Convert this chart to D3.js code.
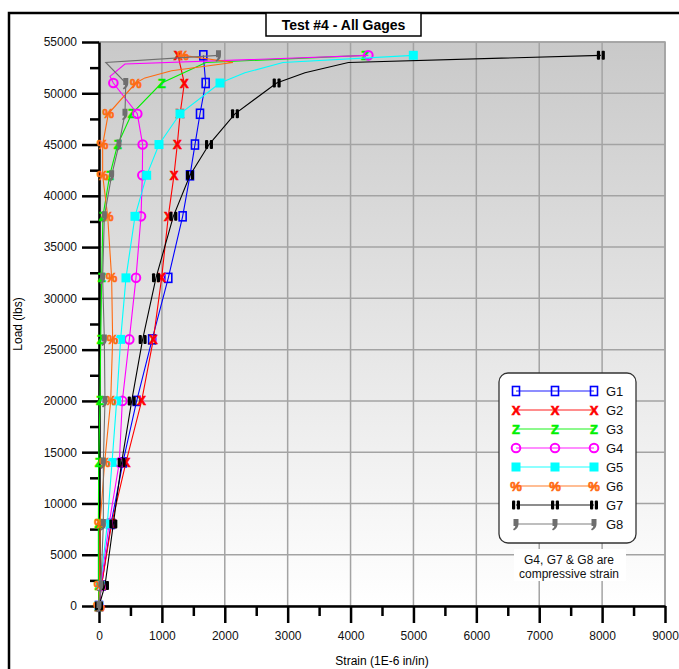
<!DOCTYPE html>
<html>
<head>
<meta charset="utf-8">
<script src="https://cdn.jsdelivr.net/npm/d3@7"></script>
<style>
  body { margin: 0; background: #fff; }
  text { font-family: "Liberation Sans", Arial, sans-serif; }
</style>
</head>
<body>
<svg id="chart" width="679" height="669"></svg>
<script>
// load steps where every gage was read and marked
const loadLevels = [0, 2000, 8000, 14000, 20000, 26000, 32000, 38000, 42000, 45000, 48000, 51000];
const topLoad = 53700;

// strain (1E-6 in/in) at each load level
const g1Strain = [0, 40, 190, 380, 599, 845, 1102, 1330, 1447, 1526, 1606, 1696];
const g2Strain = [0, 40, 200, 429, 678, 864, 996, 1102, 1192, 1245, 1290, 1357];
const g3Strain = [0, -10, -10, -5, 16, 27, 43, 62, 170, 297, 520, 996];
const g4Strain = [0, 30, 160, 323, 371, 482, 588, 668, 689, 694, 609, 228];
const g5Strain = [0, 20, 132, 207, 281, 344, 429, 572, 758, 954, 1288, 1924];
const g6Strain = [0, 10, 16, 90, 186, 217, 201, 138, 58, 58, 148, 583];
const g7Strain = [0, 95, 228, 360, 520, 694, 906, 1182, 1447, 1749, 2162, 2825];
const g8Strain = [0, 30, 69, 69, 95, 85, 58, 85, 201, 318, 413, 426];

// unmarked readings between 51000 and the last step: [load, strain]
const g1Extra = [];
const g2Extra = [];
const g3Extra = [[53000, 1700]];
const g4Extra = [[51650, 175], [52850, 413]];
const g5Extra = [[52000, 2320], [53000, 2925]];
const g6Extra = [[51500, 731], [52200, 1155], [53000, 2130]];
const g7Extra = [[52000, 3275], [53000, 3965]];
const g8Extra = [[53000, 107]];

// strain at the last load step
const topStrain = [1659, 1256, 4230, 4283, 4998, 1336, 7980, 1900];

const gageNames = ["G1", "G2", "G3", "G4", "G5", "G6", "G7", "G8"];
const gageColors = ["#0000ff", "#ff0000", "#00f000", "#ff00ff", "#00ffff", "#ff6a10", "#000000", "#6e6e6e"];
const gageMarks = ["square", "x", "z", "circle", "fsquare", "pct", "bars", "comma"];

const xTicks = d3.range(0, 9001, 1000);
const xMinor = d3.range(500, 9000, 1000);
const yTicks = d3.range(0, 55001, 5000);
const yMinor = d3.range(2500, 55000, 5000);

const allStrain = [g1Strain, g2Strain, g3Strain, g4Strain, g5Strain, g6Strain, g7Strain, g8Strain];
const allExtra = [g1Extra, g2Extra, g3Extra, g4Extra, g5Extra, g6Extra, g7Extra, g8Extra];

const series = gageNames.map((name, i) => {
    const pts = loadLevels.map((l, j) => ({load: l, strain: allStrain[i][j], mark: true}));
    allExtra[i].forEach(e => pts.push({load: e[0], strain: e[1], mark: false}));
    pts.push({load: topLoad, strain: topStrain[i], mark: true});
    return {name, color: gageColors[i], mark: gageMarks[i], points: pts};
});

const svg = d3.select("#chart");
const x = d3.scaleLinear().domain([0, 9000]).range([99, 665]);
const y = d3.scaleLinear().domain([0, 55000]).range([606, 42]);

// outer frame
svg.append("rect")
    .attr("x", 9).attr("y", 13).attr("width", 720).attr("height", 720)
    .attr("fill", "#fff").attr("stroke", "#000").attr("stroke-width", 2.5);

// plot background
const grad = svg.append("defs").append("linearGradient")
    .attr("id", "bg").attr("x1", 0).attr("y1", 0).attr("x2", 0).attr("y2", 1);
grad.append("stop").attr("offset", "0%").attr("stop-color", "#c9c9c9");
grad.append("stop").attr("offset", "100%").attr("stop-color", "#ffffff");

svg.append("rect")
    .attr("x", x(0)).attr("y", y(55000))
    .attr("width", x(9000) - x(0)).attr("height", y(0) - y(55000))
    .attr("fill", "url(#bg)")
    .attr("stroke", "#a0a0a0").attr("stroke-width", 1.5);

// grid
const grid = svg.append("g").attr("class", "grid");
grid.selectAll(".vg").data(xTicks.slice(1))
    .enter().append("line")
    .attr("x1", d => x(d)).attr("x2", d => x(d))
    .attr("y1", y(55000)).attr("y2", y(0))
    .attr("stroke", "#a3a3a3").attr("stroke-width", 1.5);
grid.selectAll(".hg").data(yTicks.slice(1))
    .enter().append("line")
    .attr("x1", x(0)).attr("x2", x(9000))
    .attr("y1", d => y(d)).attr("y2", d => y(d))
    .attr("stroke", "#a3a3a3").attr("stroke-width", 1.5);

// axes
const fmt = d3.format("d");
svg.append("g")
    .attr("transform", `translate(0,${y(0)})`)
    .call(d3.axisBottom(x).tickValues(xTicks).tickFormat(fmt).tickSize(17).tickSizeOuter(0).tickPadding(8));
svg.append("g")
    .attr("transform", `translate(0,${y(0)})`)
    .call(d3.axisBottom(x).tickValues(xMinor).tickSize(10).tickFormat(""))
    .select(".domain").remove();
svg.append("g")
    .attr("transform", `translate(${x(0)},0)`)
    .call(d3.axisLeft(y).tickValues(yTicks).tickFormat(fmt).tickSize(17).tickSizeOuter(0).tickPadding(5));
svg.append("g")
    .attr("transform", `translate(${x(0)},0)`)
    .call(d3.axisLeft(y).tickValues(yMinor).tickSize(9).tickFormat(""))
    .select(".domain").remove();

svg.selectAll(".domain").attr("stroke", "#000").attr("stroke-width", 2.5);
svg.selectAll(".tick line").attr("stroke", "#000").attr("stroke-width", 2.5);
svg.selectAll(".tick text")
    .attr("font-family", "Liberation Sans, Arial, sans-serif")
    .attr("font-size", 12).attr("fill", "#111");

// axis titles
svg.append("text")
    .attr("x", 382).attr("y", 665)
    .attr("text-anchor", "middle").attr("font-size", 12)
    .text("Strain (1E-6 in/in)");
svg.append("text")
    .attr("transform", `translate(22,${(y(0) + y(55000)) / 2}) rotate(-90)`)
    .attr("text-anchor", "middle").attr("font-size", 12)
    .text("Load (lbs)");

// title box
svg.append("rect")
    .attr("x", 266).attr("y", 13).attr("width", 155).attr("height", 23)
    .attr("fill", "#fff").attr("stroke", "#000").attr("stroke-width", 1.5);
svg.append("text")
    .attr("x", 343.5).attr("y", 30)
    .attr("text-anchor", "middle").attr("font-size", 14).attr("font-weight", "bold")
    .text("Test #4 - All Gages");

// draws one marker centred on 0,0
function drawMarker(g, type, color) {
    if (type === "square") {
        g.append("rect").attr("x", -3.5).attr("y", -4.5).attr("width", 7).attr("height", 9)
            .attr("fill", "none").attr("stroke", color).attr("stroke-width", 1.6);
    } else if (type === "fsquare") {
        g.append("rect").attr("x", -4.5).attr("y", -4.5).attr("width", 9).attr("height", 9)
            .attr("fill", color);
    } else if (type === "circle") {
        g.append("circle").attr("r", 4.3)
            .attr("fill", "none").attr("stroke", color).attr("stroke-width", 2);
    } else if (type === "bars") {
        g.append("rect").attr("x", -4).attr("y", -4.5).attr("width", 3.2).attr("height", 9).attr("rx", 1).attr("fill", color);
        g.append("rect").attr("x", 0.8).attr("y", -4.5).attr("width", 3.2).attr("height", 9).attr("rx", 1).attr("fill", color);
    } else if (type === "comma") {
        g.append("path")
            .attr("d", "M-2.5,-5 h5 v5 q0,4 -4.5,6.5 l-1,-1.2 q2.2,-1.6 2.4,-3.3 h-1.9 z")
            .attr("fill", color);
    } else {
        const ch = {x: "X", z: "Z", pct: "%"}[type];
        g.append("text").attr("y", 4.5)
            .attr("text-anchor", "middle").attr("font-size", 13).attr("font-weight", "bold")
            .attr("fill", color).attr("stroke", color).attr("stroke-width", 0.6)
            .text(ch);
    }
}

const line = d3.line()
    .x(d => x(d.strain))
    .y(d => y(d.load));

const chartBody = svg.append("g").attr("class", "chartBody");

const slice = chartBody.selectAll(".slice")
    .data(series)
    .enter().append("g")
    .attr("class", "slice");

slice.append("path")
    .attr("d", d => line(d.points))
    .attr("fill", "none")
    .attr("stroke", d => d.color)
    .attr("stroke-width", 1.1);

slice.each(function(s) {
    d3.select(this).selectAll(".mk")
        .data(s.points.filter(p => p.mark))
        .enter().append("g")
        .attr("class", "mk")
        .attr("transform", p => `translate(${x(p.strain)},${y(p.load)})`)
        .each(function() { drawMarker(d3.select(this), s.mark, s.color); });
});

// legend
const legend = svg.append("g").attr("class", "legend");
legend.append("rect")
    .attr("x", 499).attr("y", 373).attr("width", 137).attr("height", 170)
    .attr("rx", 9).attr("fill", "#fff").attr("stroke", "#333").attr("stroke-width", 1.3);

const row = legend.selectAll(".row")
    .data(series)
    .enter().append("g")
    .attr("class", "row")
    .attr("transform", (d, i) => `translate(0,${391 + i * 19})`);
row.append("line")
    .attr("x1", 516).attr("x2", 594)
    .attr("stroke", d => d.color).attr("stroke-opacity", 0.6).attr("stroke-width", 1.5);
[516, 555, 594].forEach(px => {
    row.append("g")
        .attr("transform", `translate(${px},0)`)
        .each(function(d) { drawMarker(d3.select(this), d.mark, d.color); });
});
row.append("text")
    .attr("x", 606).attr("y", 5)
    .attr("font-size", 13).attr("fill", "#111")
    .text(d => d.name);

// note under the legend
svg.append("rect")
    .attr("x", 514).attr("y", 549).attr("width", 112).attr("height", 32)
    .attr("fill", "#fff");
svg.append("text")
    .attr("x", 569).attr("y", 564)
    .attr("text-anchor", "middle").attr("font-size", 12).attr("fill", "#111")
    .text("G4, G7 & G8 are");
svg.append("text")
    .attr("x", 569).attr("y", 578)
    .attr("text-anchor", "middle").attr("font-size", 12).attr("fill", "#111")
    .text("compressive strain");
</script>
</body>
</html>
